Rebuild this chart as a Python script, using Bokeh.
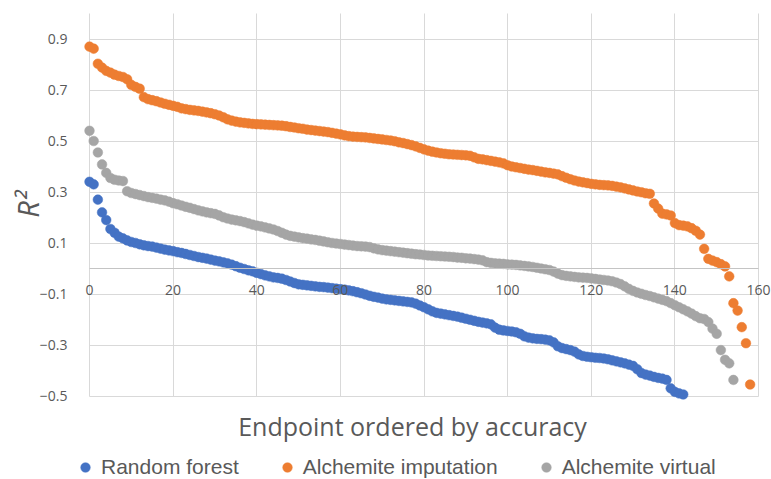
import math
from bokeh.plotting import figure
from bokeh.models import (Range1d, FixedTicker, LinearAxis, Grid, Legend, LegendItem,
                          ColumnDataSource, Label)
from bokeh.embed import file_html
from bokeh.resources import INLINE

# ---------------- data ----------------
random_forest = [
    0.34, 0.33, 0.27, 0.22, 0.19, 0.155, 0.14, 0.125, 0.118, 0.11,
    0.104, 0.10, 0.095, 0.091, 0.088, 0.086, 0.082, 0.078, 0.074, 0.071,
    0.068, 0.064, 0.061, 0.057, 0.053, 0.049, 0.045, 0.042, 0.039, 0.035,
    0.031, 0.028, 0.024, 0.020, 0.015, 0.009, 0.003, -0.002, -0.007, -0.011,
    -0.017, -0.022, -0.027, -0.031, -0.035, -0.037, -0.040, -0.045, -0.051, -0.057,
    -0.062, -0.064, -0.066, -0.068, -0.070, -0.072, -0.073, -0.075, -0.077, -0.079,
    -0.081, -0.083, -0.086, -0.089, -0.093, -0.097, -0.102, -0.107, -0.111, -0.114,
    -0.118, -0.121, -0.123, -0.125, -0.127, -0.129, -0.131, -0.133, -0.138, -0.145,
    -0.152, -0.160, -0.168, -0.174, -0.177, -0.180, -0.183, -0.186, -0.189, -0.193,
    -0.197, -0.201, -0.205, -0.209, -0.212, -0.215, -0.219, -0.232, -0.240, -0.243,
    -0.245, -0.247, -0.250, -0.256, -0.266, -0.271, -0.274, -0.276, -0.277, -0.279,
    -0.282, -0.290, -0.305, -0.312, -0.316, -0.320, -0.326, -0.337, -0.343, -0.346,
    -0.348, -0.350, -0.351, -0.353, -0.356, -0.360, -0.364, -0.368, -0.372, -0.377,
    -0.382, -0.395, -0.410, -0.416, -0.420, -0.425, -0.429, -0.432, -0.437, -0.470,
    -0.484, -0.490, -0.494,
]

alchemite_imputation = [
    0.870, 0.862, 0.803, 0.788, 0.775, 0.768, 0.760, 0.755, 0.751, 0.742,
    0.720, 0.712, 0.705, 0.672, 0.664, 0.660, 0.656, 0.651, 0.646, 0.642,
    0.638, 0.634, 0.628, 0.625, 0.622, 0.620, 0.618, 0.615, 0.612, 0.609,
    0.605, 0.600, 0.593, 0.585, 0.580, 0.576, 0.573, 0.571, 0.569, 0.567,
    0.566, 0.565, 0.564, 0.563, 0.562, 0.561, 0.560, 0.558, 0.555, 0.553,
    0.550, 0.548, 0.545, 0.543, 0.541, 0.539, 0.537, 0.535, 0.532, 0.529,
    0.526, 0.522, 0.519, 0.517, 0.516, 0.515, 0.514, 0.512, 0.510, 0.508,
    0.506, 0.504, 0.502, 0.499, 0.495, 0.492, 0.488, 0.484, 0.479, 0.473,
    0.467, 0.462, 0.458, 0.455, 0.452, 0.450, 0.448, 0.447, 0.446, 0.445,
    0.444, 0.442, 0.436, 0.430, 0.428, 0.425, 0.422, 0.419, 0.416, 0.412,
    0.405, 0.400, 0.397, 0.394, 0.391, 0.388, 0.386, 0.383, 0.380, 0.377,
    0.375, 0.372, 0.369, 0.362, 0.356, 0.350, 0.345, 0.341, 0.338, 0.335,
    0.332, 0.330, 0.328, 0.327, 0.326, 0.324, 0.321, 0.318, 0.314, 0.310,
    0.306, 0.302, 0.299, 0.295, 0.293, 0.255, 0.235, 0.215, 0.212, 0.208,
    0.178, 0.170, 0.168, 0.165, 0.158, 0.148, 0.133, 0.077, 0.038, 0.031,
    0.025, 0.017, 0.008, -0.031, -0.136, -0.165, -0.230, -0.293, -0.455,
]

alchemite_virtual = [
    0.540, 0.500, 0.455, 0.408, 0.375, 0.355, 0.348, 0.345, 0.343, 0.303,
    0.296, 0.292, 0.288, 0.284, 0.280, 0.277, 0.274, 0.270, 0.267, 0.262,
    0.256, 0.252, 0.247, 0.242, 0.238, 0.233, 0.228, 0.224, 0.220, 0.217,
    0.214, 0.208, 0.201, 0.196, 0.192, 0.189, 0.186, 0.182, 0.177, 0.172,
    0.168, 0.165, 0.161, 0.157, 0.153, 0.147, 0.140, 0.133, 0.128, 0.125,
    0.122, 0.119, 0.117, 0.114, 0.112, 0.109, 0.106, 0.103, 0.100, 0.098,
    0.096, 0.094, 0.092, 0.090, 0.088, 0.087, 0.086, 0.084, 0.079, 0.075,
    0.072, 0.070, 0.068, 0.066, 0.064, 0.062, 0.060, 0.058, 0.056, 0.055,
    0.053, 0.051, 0.050, 0.049, 0.048, 0.047, 0.046, 0.045, 0.043, 0.042,
    0.040, 0.039, 0.037, 0.035, 0.032, 0.025, 0.022, 0.020, 0.019, 0.018,
    0.016, 0.015, 0.014, 0.012, 0.010, 0.008, 0.006, 0.003, 0.000, -0.003,
    -0.006, -0.012, -0.020, -0.026, -0.029, -0.031, -0.033, -0.035, -0.036, -0.037,
    -0.039, -0.041, -0.043, -0.045, -0.047, -0.050, -0.055, -0.061, -0.070, -0.080,
    -0.088, -0.094, -0.099, -0.104, -0.108, -0.113, -0.118, -0.123, -0.128, -0.136,
    -0.144, -0.152, -0.160, -0.168, -0.177, -0.187, -0.195, -0.198, -0.210, -0.236,
    -0.256, -0.320, -0.358, -0.372, -0.437,
]

x_ticks = [0, 20, 40, 60, 80, 100, 120, 140, 160]
y_ticks = [-0.5, -0.3, -0.1, 0.1, 0.3, 0.5, 0.7, 0.9]
series_names = ["Random forest", "Alchemite imputation", "Alchemite virtual"]
x_title = "Endpoint ordered by accuracy"
y_title = "R\u00b2"

# ---------------- styling / layout ----------------
colors = ["#4472C4", "#ED7D31", "#A5A5A5"]
text_color = "#595959"
grid_color = "#d9d9d9"
font = "Open Sans"
W, H = 771, 479
X_MIN, X_MAX = 0, 160
Y_MIN, Y_MAX = -0.5, 1.0
# pixel placement of the data area inside the canvas
PX_X0, PX_X1 = 89, 758          # x = 0 and x = 160
PX_Y0, PX_YTOP = 268, 13        # y = 0 and y = 1.0
sx = (PX_X1 - PX_X0) / (X_MAX - X_MIN)
sy = (PX_Y0 - PX_YTOP) / Y_MAX

def data_x(px):
    return X_MIN + (px - PX_X0) / sx

def data_y(py):
    return (PX_Y0 - py) / sy

p = figure(width=W, height=H, output_backend="svg", toolbar_location=None,
           x_range=Range1d(data_x(0), data_x(W)),
           y_range=Range1d(data_y(H), data_y(0)),
           x_axis_type=None, y_axis_type=None,
           min_border_left=0, min_border_right=0, min_border_top=0, min_border_bottom=0)
p.outline_line_color = None
p.background_fill_color = "white"
p.border_fill_color = "white"

# grids limited to the data area
has_cross = "cross_bounds" in Grid.properties()
if has_cross:
    p.add_layout(Grid(dimension=0, ticker=FixedTicker(ticks=x_ticks),
                      cross_bounds=(Y_MIN, Y_MAX),
                      grid_line_color=grid_color, grid_line_width=1))
    p.add_layout(Grid(dimension=1, ticker=FixedTicker(ticks=y_ticks),
                      cross_bounds=(X_MIN, X_MAX),
                      grid_line_color=grid_color, grid_line_width=1))
else:
    p.segment(x0=x_ticks, x1=x_ticks, y0=[Y_MIN] * len(x_ticks), y1=[Y_MAX] * len(x_ticks),
              line_color=grid_color, line_width=1, level="underlay")
    p.segment(x0=[X_MIN] * len(y_ticks), x1=[X_MAX] * len(y_ticks), y0=y_ticks, y1=y_ticks,
              line_color=grid_color, line_width=1, level="underlay")

# series
renderers = []
for vals, col in zip([random_forest, alchemite_imputation, alchemite_virtual], colors):
    src = ColumnDataSource(dict(x=list(range(len(vals))), y=vals))
    r = p.scatter("x", "y", source=src, size=9.7, fill_color=col, line_color=col,
                  line_width=0.5)
    renderers.append(r)

# x axis crossing at y = 0
xaxis = LinearAxis(ticker=FixedTicker(ticks=x_ticks), fixed_location=0,
                   bounds=(X_MIN, X_MAX),
                   axis_line_color="#c4c4c4", axis_line_width=1,
                   major_tick_line_color=None, minor_tick_line_color=None,
                   major_label_standoff=10,
                   major_label_text_font=font, major_label_text_font_size="14px",
                   major_label_text_color=text_color)
p.add_layout(xaxis, "below")

# y axis at x = 0
yaxis = LinearAxis(ticker=FixedTicker(ticks=y_ticks), fixed_location=0,
                   bounds=(Y_MIN, Y_MAX),
                   axis_line_color=None, major_tick_line_color=None,
                   minor_tick_line_color=None,
                   major_label_standoff=16,
                   major_label_text_font=font, major_label_text_font_size="14px",
                   major_label_text_color=text_color)
p.add_layout(yaxis, "left")

# axis titles
p.add_layout(Label(x=data_x(412), y=data_y(425), text=x_title,
                   text_align="center", text_baseline="middle",
                   text_font=font, text_font_size="25px", text_color=text_color))
p.add_layout(Label(x=data_x(27), y=data_y(204), text=y_title, angle=math.pi / 2,
                   text_align="center", text_baseline="middle",
                   text_font=font, text_font_size="29px", text_font_style="italic",
                   text_color=text_color))

# legend
legend = Legend(items=[LegendItem(label=n, renderers=[r]) for n, r in zip(series_names, renderers)],
                location=(73, 0), orientation="horizontal",
                border_line_color=None, background_fill_alpha=0,
                padding=0, margin=0, spacing=36,
                glyph_width=24, glyph_height=24, label_height=24,
                label_standoff=4, label_text_font="Liberation Sans",
                label_text_font_size="21px", label_text_color=text_color)
p.add_layout(legend, "center")

open("out.html", "w").write(file_html(p, INLINE))
